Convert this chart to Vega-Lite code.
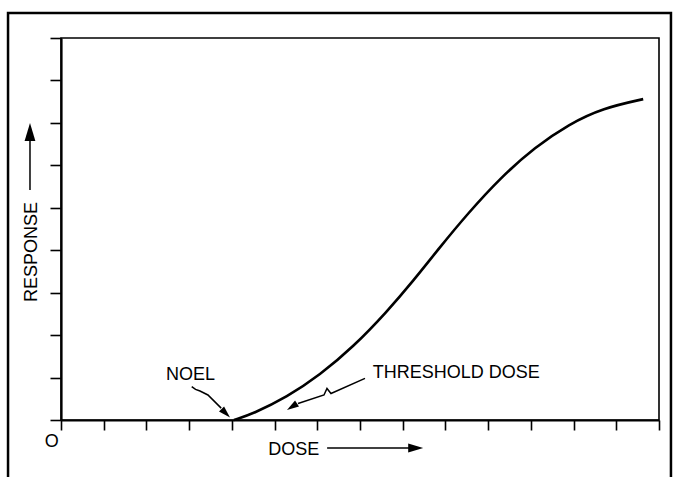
{
  "$schema": "https://vega.github.io/schema/vega-lite/v6.json",
  "autosize": "none",
  "width": 598,
  "height": 382,
  "padding": {"left": 61, "top": 38, "right": 14, "bottom": 57},
  "background": "white",
  "config": {
    "view": {"stroke": "black", "strokeWidth": 1.6},
    "font": "Liberation Sans",
    "text": {"font": "Liberation Sans", "fontSize": 18, "color": "black"}
  },
  "encoding": {
    "x": {"type": "quantitative", "scale": {"domain": [0, 14], "nice": false, "zero": false}},
    "y": {"type": "quantitative", "scale": {"domain": [0, 9], "nice": false, "zero": false}}
  },
  "layer": [
    {
      "data": {"values": [{"x0": -1.24, "x1": 14.28, "y0": -1.55, "y1": 9.59}]},
      "mark": {"type": "rect", "fill": null, "stroke": "black", "strokeWidth": 2.5},
      "encoding": {
        "x": {"field": "x0", "type": "quantitative", "axis": {"values": [0,1,2,3,4,5,6,7,8,9,10,11,12,13,14], "labels": false, "title": null, "grid": false, "tickSize": 10, "tickColor": "black", "tickWidth": 1.6, "domainColor": "black", "domainWidth": 2.2}},
        "x2": {"field": "x1"},
        "y": {"field": "y0", "type": "quantitative", "axis": {"values": [0,1,2,3,4,5,6,7,8,9], "labels": false, "title": null, "grid": false, "tickSize": 11, "tickColor": "black", "tickWidth": 1.6, "domainColor": "black", "domainWidth": 2.2}},
        "y2": {"field": "y1"}
      }
    },
    {
      "data": {"values": [
        {"dose": 4.05, "response": 0},
        {"dose": 4.5, "response": 0.15},
        {"dose": 5.29, "response": 0.54},
        {"dose": 6.06, "response": 1.06},
        {"dose": 6.84, "response": 1.72},
        {"dose": 7.63, "response": 2.55},
        {"dose": 8.24, "response": 3.27},
        {"dose": 8.87, "response": 4.07},
        {"dose": 9.51, "response": 4.85},
        {"dose": 10.3, "response": 5.72},
        {"dose": 11.1, "response": 6.43},
        {"dose": 11.89, "response": 6.97},
        {"dose": 12.69, "response": 7.35},
        {"dose": 13.63, "response": 7.56}
      ]},
      "mark": {"type": "line", "color": "black", "strokeWidth": 2.6, "interpolate": "basis"},
      "encoding": {
        "x": {"field": "dose", "type": "quantitative"},
        "y": {"field": "response", "type": "quantitative"}
      }
    },
    {
      "data": {"values": [
        {"g": "dose", "i": 0, "x": 6.23, "y": -0.66},
        {"g": "dose", "i": 1, "x": 8.2, "y": -0.66},
        {"g": "resp", "i": 0, "x": -0.726, "y": 5.42},
        {"g": "resp", "i": 1, "x": -0.726, "y": 6.75},
        {"g": "noel", "i": 0, "x": 3.06, "y": 0.785},
        {"g": "noel", "i": 1, "x": 3.15, "y": 0.72},
        {"g": "noel", "i": 2, "x": 3.254, "y": 0.683},
        {"g": "noel", "i": 3, "x": 3.44, "y": 0.59},
        {"g": "noel", "i": 4, "x": 3.75, "y": 0.28},
        {"g": "thr", "i": 0, "x": 7.117, "y": 0.982},
        {"g": "thr", "i": 1, "x": 6.321, "y": 0.624},
        {"g": "thr", "i": 2, "x": 6.227, "y": 0.742},
        {"g": "thr", "i": 3, "x": 6.157, "y": 0.589},
        {"g": "thr", "i": 4, "x": 5.549, "y": 0.389}
      ]},
      "mark": {"type": "line", "color": "black", "strokeWidth": 1.5},
      "encoding": {
        "x": {"field": "x", "type": "quantitative"},
        "y": {"field": "y", "type": "quantitative"},
        "detail": {"field": "g"},
        "order": {"field": "i", "type": "quantitative"}
      }
    },
    {
      "data": {"values": [{"x": 8.48, "y": -0.66}]},
      "mark": {"type": "point", "shape": "M0,0L-2,-0.6L-2,0.6Z", "filled": true, "color": "black", "opacity": 1, "size": 225, "angle": 0},
      "encoding": {"x": {"field": "x", "type": "quantitative"}, "y": {"field": "y", "type": "quantitative"}}
    },
    {
      "data": {"values": [{"x": -0.726, "y": 7.0}]},
      "mark": {"type": "point", "shape": "M0,0L-2,-0.6L-2,0.6Z", "filled": true, "color": "black", "opacity": 1, "size": 324, "angle": 270},
      "encoding": {"x": {"field": "x", "type": "quantitative"}, "y": {"field": "y", "type": "quantitative"}}
    },
    {
      "data": {"values": [{"x": 3.957, "y": 0.059}]},
      "mark": {"type": "point", "shape": "M0,0L-2,-0.6L-2,0.6Z", "filled": true, "color": "black", "opacity": 1, "size": 144, "angle": 45},
      "encoding": {"x": {"field": "x", "type": "quantitative"}, "y": {"field": "y", "type": "quantitative"}}
    },
    {
      "data": {"values": [{"x": 5.29, "y": 0.236}]},
      "mark": {"type": "point", "shape": "M0,0L-2,-0.6L-2,0.6Z", "filled": true, "color": "black", "opacity": 1, "size": 144, "angle": 147},
      "encoding": {"x": {"field": "x", "type": "quantitative"}, "y": {"field": "y", "type": "quantitative"}}
    },
    {
      "data": {"values": [
        {"label": "NOEL", "x": 2.46, "y": 0.942},
        {"label": "THRESHOLD DOSE", "x": 7.3, "y": 0.99},
        {"label": "DOSE", "x": 4.85, "y": -0.825},
        {"label": "O", "x": -0.38, "y": -0.636}
      ]},
      "mark": {"type": "text", "align": "left", "baseline": "alphabetic", "fontSize": 18},
      "encoding": {
        "x": {"field": "x", "type": "quantitative"},
        "y": {"field": "y", "type": "quantitative"},
        "text": {"field": "label"}
      }
    },
    {
      "data": {"values": [{"label": "RESPONSE", "x": -0.69, "y": 3.96}]},
      "mark": {"type": "text", "align": "center", "baseline": "middle", "angle": 270, "fontSize": 18},
      "encoding": {
        "x": {"field": "x", "type": "quantitative"},
        "y": {"field": "y", "type": "quantitative"},
        "text": {"field": "label"}
      }
    }
  ]
}
